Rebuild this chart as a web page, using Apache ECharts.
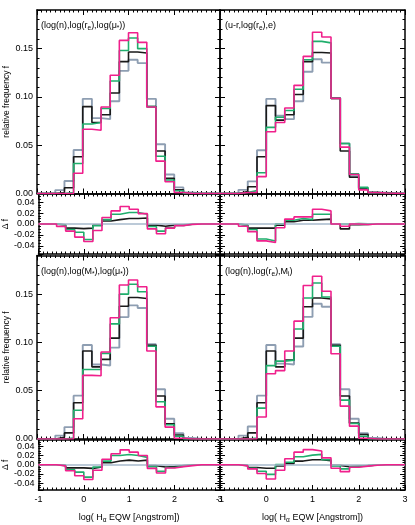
<!DOCTYPE html>
<html>
<head>
<meta charset="utf-8">
<script src="https://cdn.jsdelivr.net/npm/echarts@6/dist/echarts.min.js"></script>
<style>
  html, body { margin: 0; padding: 0; background: #fff; }
  #chart { width: 415px; height: 525px; }
</style>
</head>
<body>
<div id="chart"></div>
<script>
// bin edges in log(H_alpha EQW)
const binEdges = [-1.0, -0.8, -0.6, -0.4, -0.2, 0.0, 0.2, 0.4, 0.6, 0.8, 1.0,
                  1.2, 1.4, 1.6, 1.8, 2.0, 2.2, 2.4, 2.6, 2.8, 3.0];

// panel 1: (log(n),log(re),log(mu))
const p1Grey    = [0, 0, 0.0035, 0.013, 0.045, 0.098, 0.078, 0.077, 0.0955, 0.127, 0.1385, 0.135, 0.098, 0.051, 0.0196, 0.0063, 0.001, 0, 0, 0];
const p1Black   = [0, 0, 0.001, 0.006, 0.038, 0.090, 0.0735, 0.0815, 0.104, 0.1365, 0.1465, 0.1455, 0.090, 0.044, 0.0157, 0.0038, 0, 0, 0, 0];
const p1Green   = [0, 0, 0, 0.001, 0.031, 0.072, 0.0735, 0.088, 0.1165, 0.148, 0.161, 0.150, 0.090, 0.0385, 0.014, 0.0028, 0, 0, 0, 0];
const p1Magenta = [0, 0, 0, 0, 0.021, 0.0665, 0.0655, 0.0895, 0.1225, 0.1585, 0.1665, 0.1565, 0.0895, 0.0335, 0.0122, 0.001, 0, 0, 0, 0];
const d1Black   = [0, 0, -0.0015, -0.0075, -0.0085, -0.0075, -0.002, 0.0055, 0.008, 0.010, 0.010, 0.011, -0.002, -0.004, -0.002, -0.0013, -0.0005, 0, 0, 0];
const d1Green   = [0, 0, -0.002, -0.010, -0.015, -0.0285, -0.003, 0.008, 0.018, 0.021, 0.021, 0.018, -0.0045, -0.013, -0.007, -0.0025, -0.0005, 0, 0, 0];
const d1Magenta = [0, 0, -0.0044, -0.013, -0.024, -0.032, -0.012, 0.012, 0.024, 0.032, 0.027, 0.019, -0.009, -0.018, -0.0075, -0.003, -0.0006, 0, 0, 0];

// panel 2: (u-r,log(re),e)
const p2Grey    = [0, 0, 0.0038, 0.0126, 0.0448, 0.098, 0.0805, 0.077, 0.0955, 0.126, 0.139, 0.1355, 0.099, 0.0517, 0.018, 0.0056, 0.001, 0.0007, 0.0003, 0];
const p2Black   = [0, 0, 0.002, 0.007, 0.038, 0.091, 0.076, 0.0815, 0.1025, 0.1365, 0.146, 0.1455, 0.0985, 0.044, 0.0168, 0.0045, 0.001, 0.0005, 0, 0];
const p2Green   = [0, 0, 0.001, 0.003, 0.0215, 0.0685, 0.079, 0.086, 0.108, 0.1385, 0.1575, 0.156, 0.0985, 0.0517, 0.0203, 0.0063, 0.001, 0.0005, 0.0003, 0];
const p2Magenta = [0, 0, 0.001, 0.001, 0.0175, 0.064, 0.0735, 0.0885, 0.112, 0.142, 0.167, 0.162, 0.0985, 0.048, 0.0196, 0.0038, 0.001, 0.0005, 0.0003, 0];
const d2Black   = [0, 0, -0.002, -0.0075, -0.0075, -0.0075, -0.002, 0.004, 0.007, 0.007, 0.008, 0.009, 0, -0.009, -0.0015, -0.0006, 0, 0, 0, 0];
const d2Green   = [0, 0, -0.0025, -0.010, -0.0275, -0.031, 0.0005, 0.007, 0.010, 0.008, 0.018, 0.018, 0, 0, 0.001, 0.0005, 0, 0, 0, 0];
const d2Magenta = [0, 0, -0.004, -0.014, -0.031, -0.034, -0.007, 0.009, 0.013, 0.013, 0.027, 0.024, 0, -0.004, 0, -0.001, 0, 0, 0, 0];

// panel 3: (log(n),log(M*),log(mu))
const p3Grey    = [0, 0, 0.0035, 0.0123, 0.0449, 0.0974, 0.0771, 0.0761, 0.0946, 0.1262, 0.1384, 0.1356, 0.0981, 0.0515, 0.021, 0.006, 0.001, 0, 0, 0];
const p3Black   = [0, 0, 0.0018, 0.0063, 0.0375, 0.0911, 0.0747, 0.0824, 0.1044, 0.1374, 0.1465, 0.1455, 0.0971, 0.0445, 0.0158, 0.0042, 0, 0, 0, 0];
const p3Green   = [0, 0, 0, 0.001, 0.0298, 0.0719, 0.0719, 0.0887, 0.1192, 0.150, 0.1602, 0.1525, 0.096, 0.0386, 0.0147, 0.0028, 0, 0, 0, 0];
const p3Magenta = [0, 0, 0, 0.0003, 0.021, 0.0659, 0.0655, 0.0901, 0.1255, 0.1595, 0.1647, 0.1577, 0.0911, 0.0333, 0.0123, 0.0007, 0, 0, 0, 0];
const d3Black   = [0, 0, -0.0013, -0.0069, -0.0069, -0.008, -0.005, 0.0044, 0.008, 0.010, 0.008, 0.010, -0.002, -0.005, -0.004, -0.002, -0.0005, 0, 0, 0];
const d3Green   = [0, 0, -0.002, -0.011, -0.016, -0.027, -0.005, 0.008, 0.020, 0.0225, 0.020, 0.016, -0.004, -0.014, -0.006, -0.003, -0.0005, 0, 0, 0];
const d3Magenta = [0, 0, -0.0025, -0.013, -0.024, -0.032, -0.012, 0.012, 0.024, 0.0325, 0.0275, 0.020, -0.008, -0.018, -0.007, -0.004, -0.002, 0, 0, 0];

// panel 4: (log(n),log(re),Mi)
const p4Grey    = [0, 0, 0.0035, 0.013, 0.0449, 0.0974, 0.078, 0.0771, 0.0957, 0.1264, 0.140, 0.137, 0.0981, 0.0515, 0.021, 0.006, 0.001, 0, 0, 0];
const p4Black   = [0, 0, 0.0018, 0.0063, 0.0375, 0.0911, 0.0747, 0.0817, 0.1044, 0.137, 0.146, 0.145, 0.0971, 0.0445, 0.0165, 0.0046, 0, 0, 0, 0];
const p4Green   = [0, 0, 0, 0.001, 0.032, 0.076, 0.0806, 0.0817, 0.1139, 0.146, 0.1615, 0.147, 0.096, 0.0403, 0.016, 0.0028, 0, 0, 0, 0];
const p4Magenta = [0, 0, 0, 0.0003, 0.0228, 0.0676, 0.0708, 0.0911, 0.122, 0.159, 0.1685, 0.153, 0.0883, 0.034, 0.0133, 0.0007, 0, 0, 0, 0];
const d4Black   = [0, 0, -0.0013, -0.006, -0.0075, -0.0075, -0.0025, 0.0025, 0.008, 0.011, 0.011, 0.009, -0.0013, -0.004, -0.003, -0.002, -0.0006, 0, 0, 0];
const d4Green   = [0, 0, -0.002, -0.008, -0.014, -0.021, 0.0005, 0.0055, 0.0175, 0.021, 0.0225, 0.011, -0.0025, -0.009, -0.004, -0.002, -0.0006, 0, 0, 0];
const d4Magenta = [0, 0, -0.0025, -0.009, -0.019, -0.031, -0.012, 0.013, 0.0275, 0.033, 0.030, 0.015, -0.0075, -0.015, -0.0055, -0.003, -0.001, 0, 0, 0];

const mainTicks = ['0.00', '0.05', '0.10', '0.15'];
const deltaTicks = ['-0.04', '-0.02', '0.00', '0.02', '0.04'];

const cGrey = '#8e9eb2';
const cBlack = '#1a1a1a';
const cGreen = '#1fae6c';
const cMagenta = '#f0208c';
const cRef = '#a6b8cb';
const font = 'Liberation Sans';

// grid geometry: rows = main1, delta1, main2, delta2; cols = left, right
const rowTop = [10, 194, 255.5, 439.5];
const rowHeight = [183.5, 60, 183.5, 61.5];
const colLeft = [37, 220];
const colWidth = [183, 185];

const panels = [
  { main: [p1Grey, p1Black, p1Green, p1Magenta], delta: [d1Black, d1Green, d1Magenta] },
  { main: [p2Grey, p2Black, p2Green, p2Magenta], delta: [d2Black, d2Green, d2Magenta] },
  { main: [p3Grey, p3Black, p3Green, p3Magenta], delta: [d3Black, d3Green, d3Magenta] },
  { main: [p4Grey, p4Black, p4Green, p4Magenta], delta: [d4Black, d4Green, d4Magenta] }
];

function steps(vals) {
  const d = vals.map((v, i) => [binEdges[i], v]);
  d.push([binEdges[vals.length], vals[vals.length - 1]]);
  return d;
}

const rich = {
  n: { fontSize: 9, fontFamily: font, fontWeight: 'normal', color: '#000', lineHeight: 12, verticalAlign: 'middle' },
  s: { fontSize: 6.5, fontFamily: font, fontWeight: 'normal', color: '#000', lineHeight: 6, verticalAlign: 'bottom' }
};

const grid = [], xAxis = [], yAxis = [], series = [];
const lineAx = { show: true, onZero: false, lineStyle: { color: '#000', width: 1.5 } };
const majorTick = { show: true, inside: true, length: 5, lineStyle: { color: '#000', width: 1 } };
const minorTick = { show: true, inside: true, length: 2.5, lineStyle: { color: '#000', width: 1 } };

for (let row = 0; row < 4; row++) {
  for (let col = 0; col < 2; col++) {
    const g = row * 2 + col;
    const isMain = row % 2 === 0;
    const isLeft = col === 0;
    const isBottom = row === 3;
    grid.push({ left: colLeft[col], top: rowTop[row], width: colWidth[col], height: rowHeight[row] });

    // x axes: major bottom/top (index 4g, 4g+1), minor bottom/top (4g+2, 4g+3)
    ['bottom', 'top'].forEach(pos => {
      const showLab = isBottom && pos === 'bottom';
      xAxis.push({
        type: 'value', gridIndex: g, position: pos, min: -1, max: 3, interval: 1,
        axisLine: lineAx, axisTick: majorTick, splitLine: { show: false },
        axisLabel: { show: showLab, fontSize: 9, fontFamily: font, color: '#000', margin: 5 },
        name: showLab ? '{n|log( H}{s|α}{n| EQW [Angstrom])}' : '',
        nameLocation: 'middle', nameGap: 22,
        nameTextStyle: { rich: rich }
      });
    });
    ['bottom', 'top'].forEach(pos => {
      xAxis.push({
        type: 'value', gridIndex: g, position: pos, min: -1, max: 3, interval: 0.1,
        axisLine: { show: false, onZero: false }, axisTick: minorTick,
        splitLine: { show: false }, axisLabel: { show: false }
      });
    });

    const ticks = isMain ? mainTicks : deltaTicks;
    const yMin = isMain ? 0 : -0.055;
    const yMax = isMain ? 0.19 : 0.055;
    ['left', 'right'].forEach(pos => {
      const showLab = isLeft && pos === 'left';
      yAxis.push({
        type: 'value', gridIndex: g, position: pos, min: yMin, max: yMax,
        splitNumber: isMain ? 4 : 5,
        axisLine: lineAx, axisTick: majorTick, splitLine: { show: false },
        axisLabel: {
          show: showLab, fontSize: 9, fontFamily: font, color: '#000', margin: 4,
          formatter: v => {
            const t = (Math.abs(v) < 1e-9 ? 0 : v).toFixed(2);
            return ticks.indexOf(t) >= 0 ? t : '';
          }
        },
        name: showLab ? (isMain ? 'relative frequency f' : 'Δ f') : '',
        nameLocation: 'middle', nameGap: 21, nameRotate: 90,
        nameTextStyle: { fontSize: 8.5, fontFamily: font, color: '#000' }
      });
    });
    ['left', 'right'].forEach(pos => {
      yAxis.push({
        type: 'value', gridIndex: g, position: pos, min: yMin, max: yMax,
        interval: isMain ? 0.01 : 0.005,
        axisLine: { show: false, onZero: false }, axisTick: minorTick,
        splitLine: { show: false }, axisLabel: { show: false }
      });
    });

    const p = panels[(row >> 1) * 2 + col];
    const xi = 4 * g, yi = 4 * g;
    if (isMain) {
      const colors = [cGrey, cBlack, cGreen, cMagenta];
      p.main.forEach((vals, k) => {
        series.push({
          type: 'line', step: 'end', symbol: 'none', xAxisIndex: xi, yAxisIndex: yi,
          data: steps(vals), lineStyle: { color: colors[k], width: k === 0 ? 1.9 : 1.6 },
          z: 2 + k
        });
      });
    } else {
      series.push({
        type: 'line', symbol: 'none', xAxisIndex: xi, yAxisIndex: yi, data: [], z: 1,
        markLine: {
          silent: true, symbol: 'none', label: { show: false },
          lineStyle: { color: cRef, width: 1.6, type: 'solid' },
          data: [{ yAxis: 0 }]
        }
      });
      const colors = [cBlack, cGreen, cMagenta];
      p.delta.forEach((vals, k) => {
        series.push({
          type: 'line', step: 'end', symbol: 'none', xAxisIndex: xi, yAxisIndex: yi,
          data: steps(vals), lineStyle: { color: colors[k], width: 1.6 },
          z: 3 + k
        });
      });
    }
  }
}

const labels = [
  { left: 41, top: 20, text: '{n|(log(n),log(r}{s|e}{n|),log(μ}{s|*}{n|))}' },
  { left: 225, top: 20, text: '{n|(u-r,log(r}{s|e}{n|),e)}' },
  { left: 41, top: 266, text: '{n|(log(n),log(M}{s|*}{n|),log(μ}{s|*}{n|))}' },
  { left: 225, top: 266, text: '{n|(log(n),log(r}{s|e}{n|),M}{s|i}{n|)}' }
];

const chart = echarts.init(document.getElementById('chart'));
chart.setOption({
  animation: false,
  backgroundColor: '#fff',
  title: labels.map(l => ({
    left: l.left, top: l.top, padding: 0, text: l.text,
    textStyle: { fontWeight: 'normal', fontSize: 9, fontFamily: font, rich: rich }
  })),
  grid: grid,
  xAxis: xAxis,
  yAxis: yAxis,
  series: series
});
</script>
</body>
</html>
